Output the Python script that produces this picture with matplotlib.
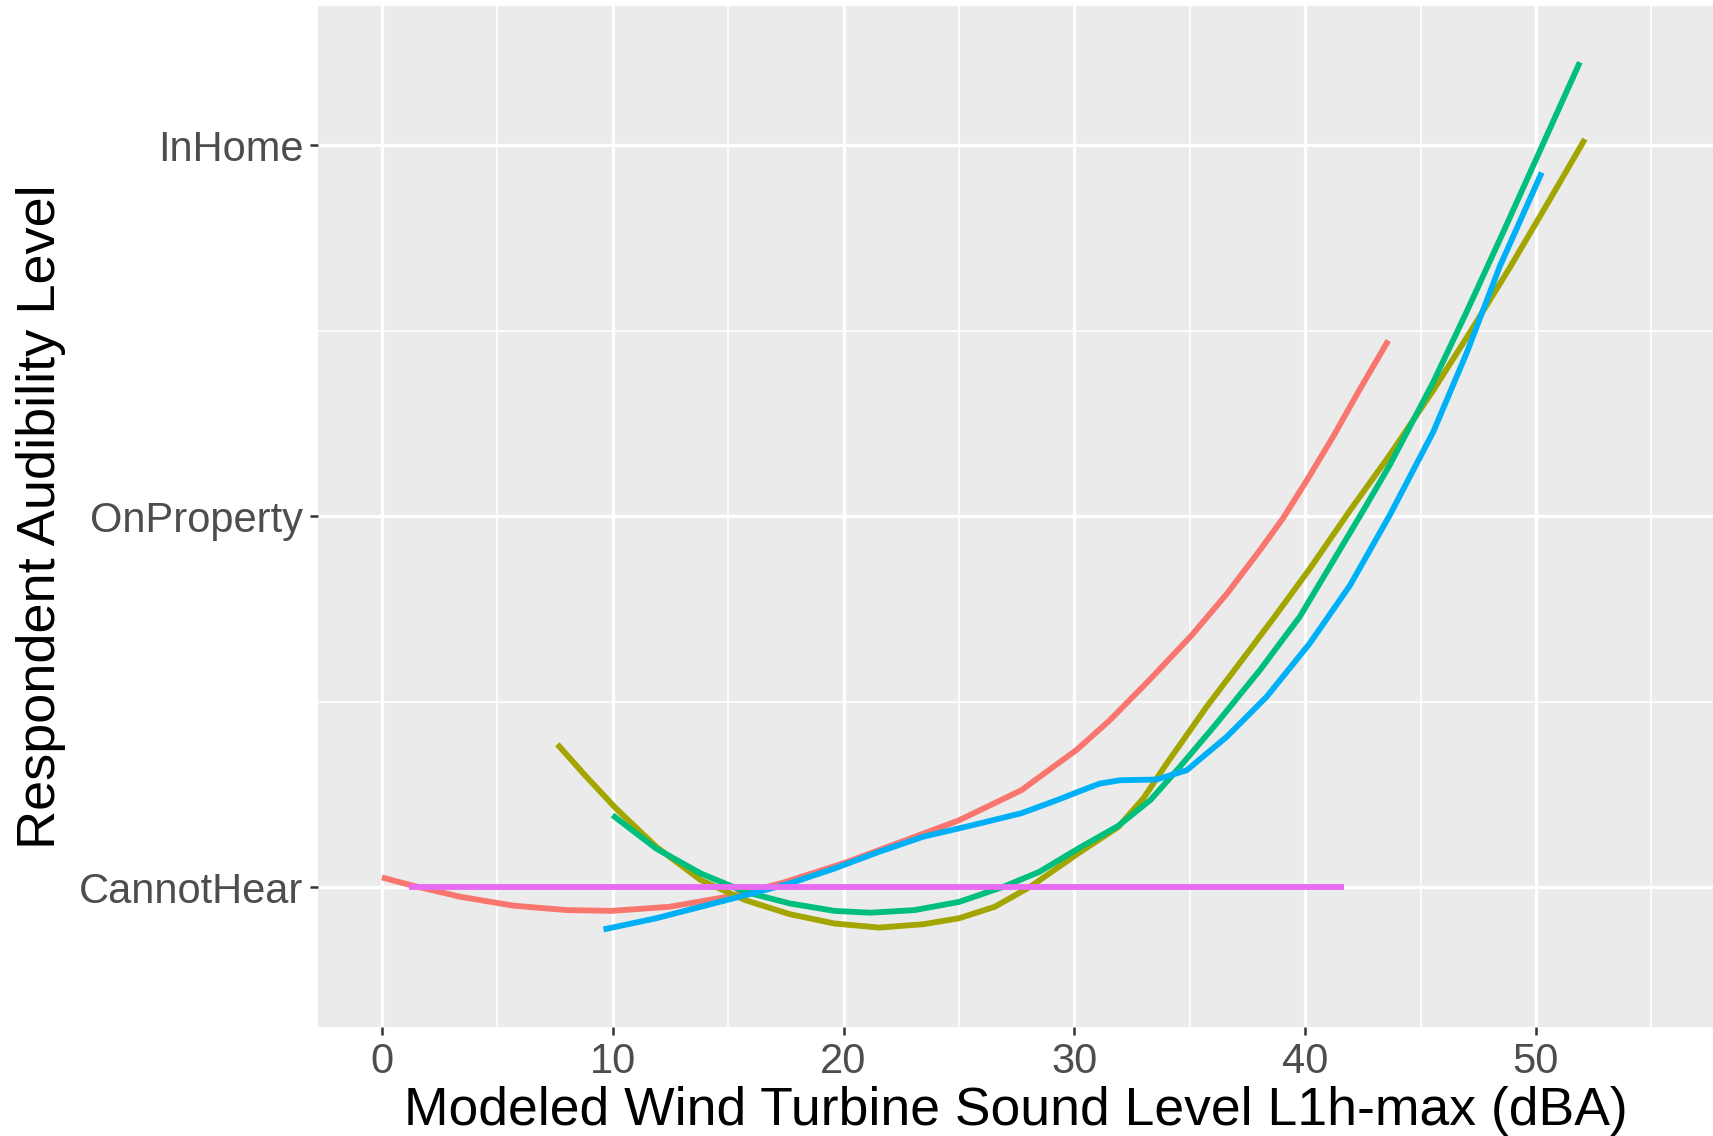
import matplotlib
matplotlib.use("Agg")
import matplotlib.pyplot as plt
from matplotlib.ticker import MultipleLocator

plt.rcParams['font.family'] = ['Liberation Sans', 'DejaVu Sans']

levels = ["CannotHear", "OnProperty", "InHome"]
x_ticks = [0, 10, 20, 30, 40, 50]

# Smoothed curves (x in dBA, y on 1..3 level scale)
red_x = [0.0, 1.27, 3.39, 5.7, 8.02, 9.95, 12.46, 14.97, 17.28, 19.99, 22.5, 25.0, 27.7,
         30.1, 31.54, 33.28, 35.1, 36.6, 38.04, 39.05, 40.06, 41.22, 42.37, 43.6]
red_y = [1.026, 1.005, 0.974, 0.95, 0.938, 0.936, 0.947, 0.974, 1.01, 1.064, 1.122, 1.18, 1.261,
         1.37, 1.45, 1.56, 1.68, 1.79, 1.908, 1.995, 2.095, 2.215, 2.342, 2.473]

olive_x = [7.6, 8.79, 10.14, 11.88, 13.81, 15.74, 17.67, 19.6, 21.53, 23.46, 25.0, 26.55, 28.09,
           30.17, 31.9, 33.0, 34.0, 35.73, 37.18, 38.62, 40.2, 41.94, 43.67, 45.55, 47.14,
           48.87, 50.6, 52.12]
olive_y = [1.385, 1.302, 1.212, 1.109, 1.019, 0.965, 0.927, 0.902, 0.891, 0.9, 0.916, 0.947, 1.001,
           1.091, 1.162, 1.24, 1.333, 1.486, 1.605, 1.724, 1.858, 2.015, 2.165, 2.339, 2.495,
           2.67, 2.853, 3.016]

green_x = [9.99, 11.88, 13.81, 15.74, 17.67, 19.6, 21.14, 23.07, 25.0, 26.93, 28.48, 30.17,
           31.9, 33.3, 34.57, 36.16, 38.04, 39.77, 41.3, 42.66, 43.67, 45.55, 47.0, 48.58,
           50.03, 51.9]
green_y = [1.194, 1.104, 1.037, 0.987, 0.956, 0.936, 0.931, 0.938, 0.96, 1.001, 1.041, 1.104,
           1.165, 1.235, 1.324, 1.441, 1.585, 1.729, 1.888, 2.03, 2.138, 2.361, 2.551, 2.765,
           2.965, 3.223]

blue_x = [9.6, 11.88, 13.81, 15.74, 17.67, 19.6, 21.53, 23.46, 25.39, 27.7, 29.23, 30.17,
          31.1, 31.98, 33.56, 34.87, 36.6, 38.33, 40.2, 41.94, 43.67, 45.55, 47.0, 48.44, 50.25]
blue_y = [0.886, 0.916, 0.947, 0.978, 1.01, 1.05, 1.095, 1.136, 1.164, 1.199, 1.234, 1.257,
          1.279, 1.288, 1.29, 1.315, 1.405, 1.513, 1.657, 1.813, 2.003, 2.227, 2.44, 2.674, 2.926]

pink_x = [1.19, 41.67]
pink_y = [1.0, 1.0]

series = [
    (red_x, red_y, "#F8766D"),
    (olive_x, olive_y, "#A3A500"),
    (green_x, green_y, "#00BF7D"),
    (blue_x, blue_y, "#00B0F6"),
    (pink_x, pink_y, "#E76BF3"),
]

fig = plt.figure(figsize=(17.13, 11.36), dpi=100)
ax = fig.add_axes([318/1713, 109/1136, 1 - 318/1713, (1027-5.5)/1136])
ax.set_facecolor("#EBEBEB")

for xs, ys, c in series:
    ax.plot(xs, ys, color=c, lw=4.2, solid_capstyle='butt', solid_joinstyle='round')

ax.set_xlim(-2.77, 57.67)
ax.set_ylim(0.623, 3.376)
ax.set_xticks(x_ticks)
ax.xaxis.set_minor_locator(MultipleLocator(5))
ax.set_yticks([1, 2, 3])
ax.set_yticklabels(levels)
ax.set_yticks([1.5, 2.5], minor=True)

ax.grid(which='major', color='white', lw=2.4)
ax.grid(which='minor', color='white', lw=1.2)
ax.set_axisbelow(True)
for s in ax.spines.values():
    s.set_visible(False)

ax.tick_params(axis='both', which='major', length=5.5, width=1.8, color='#333333',
               labelsize=30, labelcolor='#4D4D4D', pad=5)
ax.tick_params(axis='both', which='minor', length=0)

ax.set_xlabel("Modeled Wind Turbine Sound Level L1h-max (dBA)", fontsize=38.5, color='black')
ax.xaxis.label.set_va('baseline')
ax.xaxis.set_label_coords(0.5, -0.0959)

ax.set_ylabel("Respondent Audibility Level", fontsize=39, color='black')
ax.yaxis.label.set_va('baseline')
ax.yaxis.set_label_coords(-0.1885, 0.5)

fig.savefig("out.png", dpi=100)
